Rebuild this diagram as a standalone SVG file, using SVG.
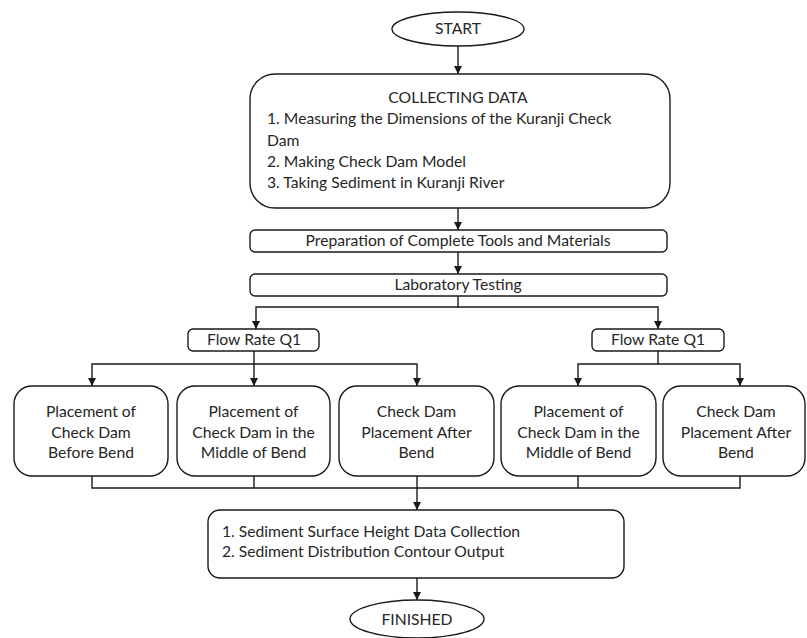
<svg xmlns="http://www.w3.org/2000/svg" width="807" height="638" viewBox="0 0 807 638">
<style>
.s{fill:#fff;stroke:#1a1a1a;stroke-width:1.4}
.t{font-family:Lato,"Open Sans",sans-serif;font-size:15.7px;fill:#262626}
.c{text-anchor:middle}
.l{fill:none;stroke:#1a1a1a;stroke-width:1.4}
</style>
<defs>
<marker id="a" viewBox="0 0 10 10" refX="10" refY="5" markerWidth="8" markerHeight="8" markerUnits="userSpaceOnUse" orient="auto">
<path d="M0,0 L10,5 L0,10 Z" fill="#1a1a1a"/>
</marker>
</defs>
<rect width="807" height="638" fill="#fff"/>
<g id="connectors">
<path class="l" d="M458,46 V74" marker-end="url(#a)"/>
<path class="l" d="M458,208 V230" marker-end="url(#a)"/>
<path class="l" d="M458,252 V274" marker-end="url(#a)"/>
<path class="l" d="M458,296 V307 H256 V329" marker-end="url(#a)"/>
<path class="l" d="M458,307 H658 V329" marker-end="url(#a)"/>
<path class="l" d="M254,351 V364 H92 V386" marker-end="url(#a)"/>
<path class="l" d="M254,364 V386" marker-end="url(#a)"/>
<path class="l" d="M254,364 H417 V386" marker-end="url(#a)"/>
<path class="l" d="M658,351 V364 H578 V386" marker-end="url(#a)"/>
<path class="l" d="M658,364 H740 V386" marker-end="url(#a)"/>
<path class="l" d="M92,476 V488 H740 V476 M254,476 V488 M578,476 V488"/>
<path class="l" d="M417,476 V510" marker-end="url(#a)"/>
<path class="l" d="M417,578 V600" marker-end="url(#a)"/>
</g>
<g id="start">
<ellipse class="s" cx="458" cy="29" rx="66" ry="17"/>
<text class="t c" x="458" y="34">START</text>
</g>
<g id="collecting">
<rect class="s" x="250" y="74" width="420" height="134" rx="25"/>
<text class="t c" x="458" y="103">COLLECTING DATA</text>
<text class="t" x="267" y="124">1. Measuring the Dimensions of the Kuranji Check</text>
<text class="t" x="267" y="146">Dam</text>
<text class="t" x="267" y="167">2. Making Check Dam Model</text>
<text class="t" x="267" y="188">3. Taking Sediment in Kuranji River</text>
</g>
<g id="preparation">
<rect class="s" x="250" y="230" width="417" height="22" rx="5"/>
<text class="t c" x="458" y="246">Preparation of Complete Tools and Materials</text>
</g>
<g id="lab">
<rect class="s" x="250" y="274" width="417" height="22" rx="5"/>
<text class="t c" x="458" y="290">Laboratory Testing</text>
</g>
<g id="flow1">
<rect class="s" x="188" y="329" width="131" height="22" rx="5"/>
<text class="t c" x="254" y="345">Flow Rate Q1</text>
</g>
<g id="flow2">
<rect class="s" x="592" y="329" width="132" height="22" rx="5"/>
<text class="t c" x="658" y="345">Flow Rate Q1</text>
</g>
<g id="b1">
<rect class="s" x="14" y="386" width="154" height="90" rx="18"/>
<text class="t c" x="91" y="417">Placement of</text>
<text class="t c" x="91" y="438">Check Dam</text>
<text class="t c" x="91" y="458">Before Bend</text>
</g>
<g id="b2">
<rect class="s" x="177" y="386" width="153" height="90" rx="18"/>
<text class="t c" x="253.5" y="417">Placement of</text>
<text class="t c" x="253.5" y="438">Check Dam in the</text>
<text class="t c" x="253.5" y="458">Middle of Bend</text>
</g>
<g id="b3">
<rect class="s" x="339" y="386" width="155" height="90" rx="18"/>
<text class="t c" x="416.5" y="417">Check Dam</text>
<text class="t c" x="416.5" y="438">Placement After</text>
<text class="t c" x="416.5" y="458">Bend</text>
</g>
<g id="b4">
<rect class="s" x="501" y="386" width="155" height="90" rx="18"/>
<text class="t c" x="578.5" y="417">Placement of</text>
<text class="t c" x="578.5" y="438">Check Dam in the</text>
<text class="t c" x="578.5" y="458">Middle of Bend</text>
</g>
<g id="b5">
<rect class="s" x="663" y="386" width="142" height="90" rx="18"/>
<text class="t c" x="736" y="417">Check Dam</text>
<text class="t c" x="736" y="438">Placement After</text>
<text class="t c" x="736" y="458">Bend</text>
</g>
<g id="sediment">
<rect class="s" x="208" y="510" width="416" height="68" rx="12"/>
<text class="t" x="222" y="537">1. Sediment Surface Height Data Collection</text>
<text class="t" x="222" y="557">2. Sediment Distribution Contour Output</text>
</g>
<g id="finished">
<ellipse class="s" cx="417" cy="619" rx="67" ry="19"/>
<text class="t c" x="417" y="625">FINISHED</text>
</g>
</svg>
